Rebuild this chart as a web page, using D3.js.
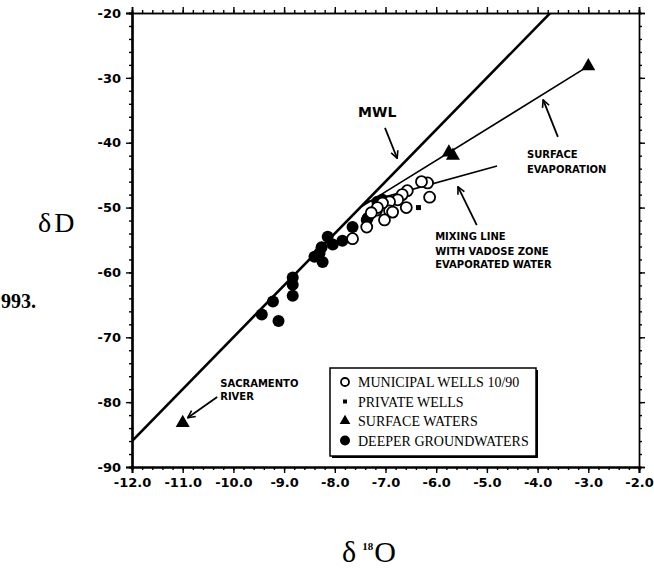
<!DOCTYPE html>
<html>
<head>
<meta charset="utf-8">
<script src="https://cdn.jsdelivr.net/npm/d3@7"></script>
<style>
  html, body { margin: 0; padding: 0; background: #fff; }
  svg { display: block; }
  .tick text { font-family: "DejaVu Sans", sans-serif; font-weight: bold; }
</style>
</head>
<body>
<svg id="chart" width="654" height="568"></svg>
<script>
// δ18O / δD isotope data
const municipalWells = [
  [-6.17, -46.2], [-6.29, -46.0], [-6.13, -48.4], [-6.57, -47.4], [-6.67, -48.0],
  [-6.59, -50.0], [-6.76, -48.8], [-6.92, -49.1], [-6.92, -50.5], [-7.02, -51.9],
  [-7.37, -53.0], [-7.18, -50.4], [-7.65, -54.8], [-7.06, -49.3], [-6.86, -50.7],
  [-7.16, -50.0], [-7.28, -50.8]
];
const privateWells = [[-6.35, -50.0]];
const surfaceWaters = [[-11.0, -83.2], [-5.75, -41.5], [-5.67, -42.0], [-3.0, -28.2]];
const deeperGroundwaters = [
  [-9.44, -66.5], [-9.22, -64.5], [-9.11, -67.5], [-8.83, -60.8], [-8.83, -61.9],
  [-8.83, -63.6], [-8.40, -57.6], [-8.30, -57.0], [-8.24, -58.4], [-8.26, -56.1],
  [-8.14, -54.5], [-8.04, -55.7], [-7.85, -55.1], [-7.65, -53.0], [-7.37, -51.9],
  [-7.35, -51.6], [-7.16, -49.1], [-7.06, -48.8]
];

// Reference lines
const mwlLine = [[-12.0, -86.0], [-2.0, -6.0]];           // δD = 8·δ18O + 10
const evaporationLine = [[-7.48, -49.9], [-3.0, -28.2]];
const mixingLine = [[-7.40, -49.2], [-4.80, -43.6]];

// Axis ticks
const xTicks = [-12, -11, -10, -9, -8, -7, -6, -5, -4, -3, -2];
const yTicks = [-90, -80, -70, -60, -50, -40, -30, -20];
const legendLabels = ["MUNICIPAL WELLS 10/90", "PRIVATE WELLS", "SURFACE WATERS", "DEEPER GROUNDWATERS"];

const svg = d3.select("#chart");
const plotL = 132, plotR = 639, plotT = 13, plotB = 467;

const x = d3.scaleLinear().domain([-12, -2]).range([plotL, plotR]);
const y = d3.scaleLinear().domain([-90, -20]).range([plotB, plotT]);

const hyphen = s => s.replace("\u2212", "-");
const fmtX = d => hyphen(d3.format(".1f")(d));
const fmtY = d => hyphen(d3.format("d")(d));

const xMinor = d3.range(-12, -1.99, 0.2).map(v => +v.toFixed(1));
const yMinor = d3.range(-90, -19.99, 2);

function styleAxis(g, w) {
  g.select(".domain").attr("stroke-width", w).attr("stroke", "#000");
  g.selectAll(".tick line").attr("stroke", "#000").attr("stroke-width", 1.4);
}

// minor ticks on all four sides
svg.append("g").attr("transform", `translate(0,${plotB})`)
  .call(d3.axisBottom(x).tickValues(xMinor).tickSize(3).tickFormat("")).call(g => styleAxis(g, 2));
svg.append("g").attr("transform", `translate(0,${plotT})`)
  .call(d3.axisTop(x).tickValues(xMinor).tickSize(3).tickFormat("")).call(g => styleAxis(g, 1.6));
svg.append("g").attr("transform", `translate(${plotL},0)`)
  .call(d3.axisLeft(y).tickValues(yMinor).tickSize(3).tickFormat("")).call(g => styleAxis(g, 2.2));
svg.append("g").attr("transform", `translate(${plotR},0)`)
  .call(d3.axisRight(y).tickValues(yMinor).tickSize(3).tickFormat("")).call(g => styleAxis(g, 1.4));

// major ticks and labels
svg.append("g").attr("transform", `translate(0,${plotB})`)
  .call(d3.axisBottom(x).tickValues(xTicks).tickSize(6).tickPadding(5).tickFormat(fmtX))
  .call(g => { styleAxis(g, 2); g.selectAll("text").attr("font-size", 13).attr("fill", "#000"); });
svg.append("g").attr("transform", `translate(0,${plotT})`)
  .call(d3.axisTop(x).tickValues(xTicks).tickSize(6).tickFormat(""))
  .call(g => styleAxis(g, 1.6));
svg.append("g").attr("transform", `translate(${plotL},0)`)
  .call(d3.axisLeft(y).tickValues(yTicks).tickSize(6).tickPadding(5).tickFormat(fmtY))
  .call(g => { styleAxis(g, 2.2); g.selectAll("text").attr("font-size", 13).attr("fill", "#000"); });
svg.append("g").attr("transform", `translate(${plotR},0)`)
  .call(d3.axisRight(y).tickValues(yTicks).tickSize(6).tickFormat(""))
  .call(g => styleAxis(g, 1.4));

// plot clip
svg.append("clipPath").attr("id", "plot-clip")
  .append("rect").attr("x", plotL).attr("y", plotT).attr("width", plotR - plotL).attr("height", plotB - plotT);

const line = d3.line().x(d => x(d[0])).y(d => y(d[1]));
const lines = svg.append("g").attr("clip-path", "url(#plot-clip)");
lines.append("path").attr("d", line(mwlLine)).attr("fill", "none").attr("stroke", "#000").attr("stroke-width", 2.6);
lines.append("path").attr("d", line(evaporationLine)).attr("fill", "none").attr("stroke", "#000").attr("stroke-width", 1.6);
lines.append("path").attr("d", line(mixingLine)).attr("fill", "none").attr("stroke", "#000").attr("stroke-width", 1.6);

// points
const pts = svg.append("g");
pts.selectAll("circle.deep").data(deeperGroundwaters).join("circle")
  .attr("class", "deep").attr("cx", d => x(d[0])).attr("cy", d => y(d[1])).attr("r", 6).attr("fill", "#000");
pts.selectAll("circle.muni").data(municipalWells).join("circle")
  .attr("class", "muni").attr("cx", d => x(d[0])).attr("cy", d => y(d[1])).attr("r", 5.5)
  .attr("fill", "#fff").attr("stroke", "#000").attr("stroke-width", 1.8);
pts.selectAll("rect.priv").data(privateWells).join("rect")
  .attr("class", "priv").attr("x", d => x(d[0]) - 2.5).attr("y", d => y(d[1]) - 2.5)
  .attr("width", 5).attr("height", 5).attr("fill", "#000");
const tri = d3.symbol().type(d3.symbolTriangle).size(85);
pts.selectAll("path.surf").data(surfaceWaters).join("path")
  .attr("class", "surf").attr("d", tri)
  .attr("transform", d => `translate(${x(d[0])},${y(d[1])})`).attr("fill", "#000");

// annotations (positions in data units)
svg.append("defs").append("marker")
  .attr("id", "arrow").attr("viewBox", "0 0 10 10").attr("refX", 9).attr("refY", 5)
  .attr("markerWidth", 9).attr("markerHeight", 9).attr("markerUnits", "userSpaceOnUse")
  .attr("orient", "auto")
  .append("path").attr("d", "M1,1 L9,5 L1,9").attr("fill", "none").attr("stroke", "#000").attr("stroke-width", 1.8);

const arrows = [
  [[-7.01, -37.7], [-6.77, -42.4]],
  [[-3.60, -39.1], [-3.89, -33.4]],
  [[-5.20, -52.7], [-5.57, -46.8]],
  [[-10.32, -79.2], [-10.90, -82.4]]
];
svg.append("g").selectAll("path").data(arrows).join("path")
  .attr("d", line).attr("fill", "none").attr("stroke", "#000").attr("stroke-width", 1.8)
  .attr("marker-end", "url(#arrow)");

const notes = [
  { at: [-7.54, -36.0], text: "MWL", size: 14 },
  { at: [-4.21, -42.4], text: "SURFACE", size: 10 },
  { at: [-4.21, -44.7], text: "EVAPORATION", size: 10 },
  { at: [-6.02, -55.0], text: "MIXING LINE", size: 10 },
  { at: [-6.02, -57.3], text: "WITH VADOSE ZONE", size: 10 },
  { at: [-6.02, -59.3], text: "EVAPORATED WATER", size: 10 },
  { at: [-10.26, -77.7], text: "SACRAMENTO", size: 10 },
  { at: [-10.26, -79.7], text: "RIVER", size: 10 }
];
svg.append("g").selectAll("text").data(notes).join("text")
  .attr("x", d => x(d.at[0])).attr("y", d => y(d.at[1]))
  .attr("font-family", "'DejaVu Sans', sans-serif").attr("font-weight", "bold")
  .attr("font-size", d => d.size).text(d => d.text);

// legend
const lg = svg.append("g").attr("transform", "translate(330,368)");
const lw = 206, lh = 88;
lg.append("rect").attr("x", 2).attr("y", 2).attr("width", lw).attr("height", lh).attr("fill", "#000");
lg.append("rect").attr("width", lw).attr("height", lh).attr("fill", "#fff").attr("stroke", "#000").attr("stroke-width", 1.5);
const rowY = i => 14 + i * 19.5;
const sx = 15;
lg.append("circle").attr("cx", sx).attr("cy", rowY(0) - 5 + 5).attr("r", 4).attr("fill", "#fff").attr("stroke", "#000").attr("stroke-width", 1.8);
lg.append("rect").attr("x", sx - 2).attr("y", rowY(1) - 2).attr("width", 4).attr("height", 4).attr("fill", "#000");
lg.append("path").attr("d", d3.symbol().type(d3.symbolTriangle).size(50)).attr("transform", `translate(${sx},${rowY(2)})`).attr("fill", "#000");
lg.append("circle").attr("cx", sx).attr("cy", rowY(3)).attr("r", 5).attr("fill", "#000");
lg.selectAll("text").data(legendLabels).join("text")
  .attr("x", 28).attr("y", (d, i) => rowY(i) + 5)
  .attr("font-family", "'Liberation Serif', serif").attr("font-size", 14)
  .text(d => d);

// axis titles
const delta = svg.append("text").attr("x", 38).attr("y", 232)
  .attr("font-family", "'Liberation Serif', serif").attr("font-size", 28);
delta.append("tspan").text("δ");
delta.append("tspan").attr("dx", 3).text("D");

const xt = svg.append("text").attr("x", 342).attr("y", 562)
  .attr("font-family", "'Liberation Serif', serif").attr("font-size", 30);
xt.append("tspan").text("δ");
xt.append("tspan").attr("dx", 6).attr("dy", -12).attr("font-size", 11).attr("font-weight", "bold").text("18");
xt.append("tspan").attr("dy", 12).attr("dx", 1).text("O");

svg.append("text").attr("x", 1).attr("y", 308)
  .attr("font-family", "'Liberation Serif', serif").attr("font-weight", "bold").attr("font-size", 20)
  .text("993.");
</script>
</body>
</html>
